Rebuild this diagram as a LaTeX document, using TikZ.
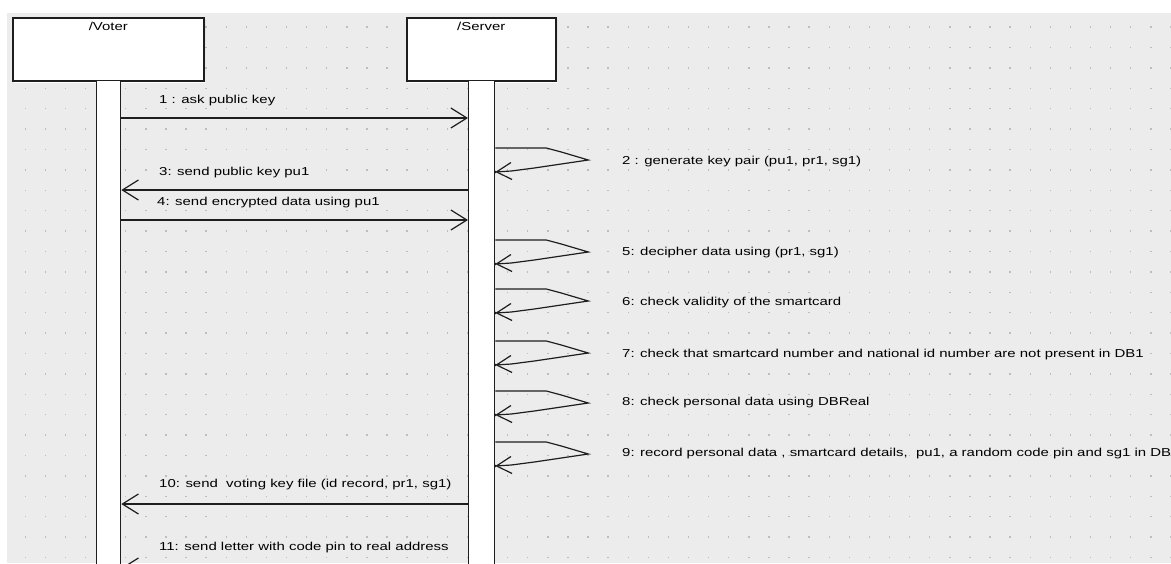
\documentclass[tikz,border=0pt]{standalone}
\usepackage{fontspec}
\newfontfamily\umlfont[FakeStretch=1.3]{Liberation Sans}
\usetikzlibrary{arrows.meta}
\definecolor{bggray}{HTML}{ECECEC}
\definecolor{dotgray}{HTML}{BDBDBD}
\definecolor{ink}{HTML}{1E1E1E}
\definecolor{shade}{HTML}{A8A8A8}
\begin{document}
\begin{tikzpicture}[x=1pt,y=-1pt,
  font=\umlfont\fontsize{11.5}{13}\selectfont,
  lifebox/.style={draw=ink, line width=1.6pt, fill=white, inner sep=0pt,
    minimum height=63pt, anchor=north west},
  actbar/.style={draw=ink, line width=1.3pt, fill=white, inner sep=0pt,
    minimum height=490pt, anchor=north west},
  msg/.style={draw=ink, line width=1.2pt, -{Straight Barb[length=16pt,width=20pt]}},
  selfmsg/.style={draw=ink, line width=1.2pt, -{Straight Barb[length=15pt,width=17pt]}},
  lbl/.style={anchor=west, inner sep=0pt, text=black}
]
\useasboundingbox (0,0) rectangle (1171,563);
\clip (0,0) rectangle (1171,563);
% background
\fill[white] (0,0) rectangle (1171,563);
\fill[bggray] (7,13) rectangle (1171,563);
\foreach \i in {0,...,57}{
  \foreach \j in {0,...,26}{
    \fill[dotgray] ({25.2+20.1*\i-0.7},{27+20.4*\j-0.7}) rectangle ++(1.4,1.4);
  }
}
% shadows of boxes
\fill[shade] (14,19) rectangle (205,82);
\fill[shade] (408,19) rectangle (557,82);
% lifeline heads
\node[lifebox, minimum width=191pt,
  label={[anchor=north, inner sep=0pt, yshift=-5pt]north:/Voter}] (voter) at (12,17) {};
\node[lifebox, minimum width=149pt,
  label={[anchor=north, inner sep=0pt, yshift=-5pt]north:/Server}] (server) at (406,17) {};
% activation bars
\node[actbar, minimum width=24pt] (vbar) at (96,80) {};
\node[actbar, minimum width=26pt] (sbar) at (468,80) {};
% messages between lifelines
\node[lbl] (l1) at (159,101) {1 : ask public key};
\draw[msg] (vbar.east |- 0,118) -- (sbar.west |- 0,118);
\node[lbl] (l3) at (159,173) {3: send public key pu1};
\draw[msg] (sbar.west |- 0,190) -- (vbar.east |- 0,190);
\node[lbl] (l4) at (157,203) {4: send encrypted data using pu1};
\draw[msg] (vbar.east |- 0,220) -- (sbar.west |- 0,220);
\node[lbl] (l10) at (159,485) {10: send\ \ voting key file (id record, pr1, sg1)};
\draw[msg] (sbar.west |- 0,504) -- (vbar.east |- 0,504);
\node[lbl] (l11) at (159,548) {11: send letter with code pin to real address};
\draw[msg] (sbar.west |- 0,568) -- (vbar.east |- 0,568);
% self messages
\foreach \t/\n in {148/2,240/5,289/6,341/7,391/8,442/9}{
  \draw[selfmsg] (sbar.east |- 0,\t) -- ++(51,0) -- ++(15,4) -- ++(27,8)
     -- ++(-54,8) -- ++(-23,3) -- ++(-16,1) coordinate (e\n);
  \fill[ink] (e\n) circle (1.4);
}
\node[lbl] (l2) at (622,162) {2 : generate key pair (pu1, pr1, sg1)};
\node[lbl] (l5) at (622,253) {5: decipher data using (pr1, sg1)};
\node[lbl] (l6) at (622,303) {6: check validity of the smartcard};
\node[lbl] (l7) at (622,355) {7: check that smartcard number and national id number are not present in DB1};
\node[lbl] (l8) at (622,403) {8: check personal data using DBReal};
\node[lbl] (l9) at (622,454) {9: record personal data , smartcard details,\ \ pu1, a random code pin and sg1 in DB1};
\end{tikzpicture}
\end{document}
